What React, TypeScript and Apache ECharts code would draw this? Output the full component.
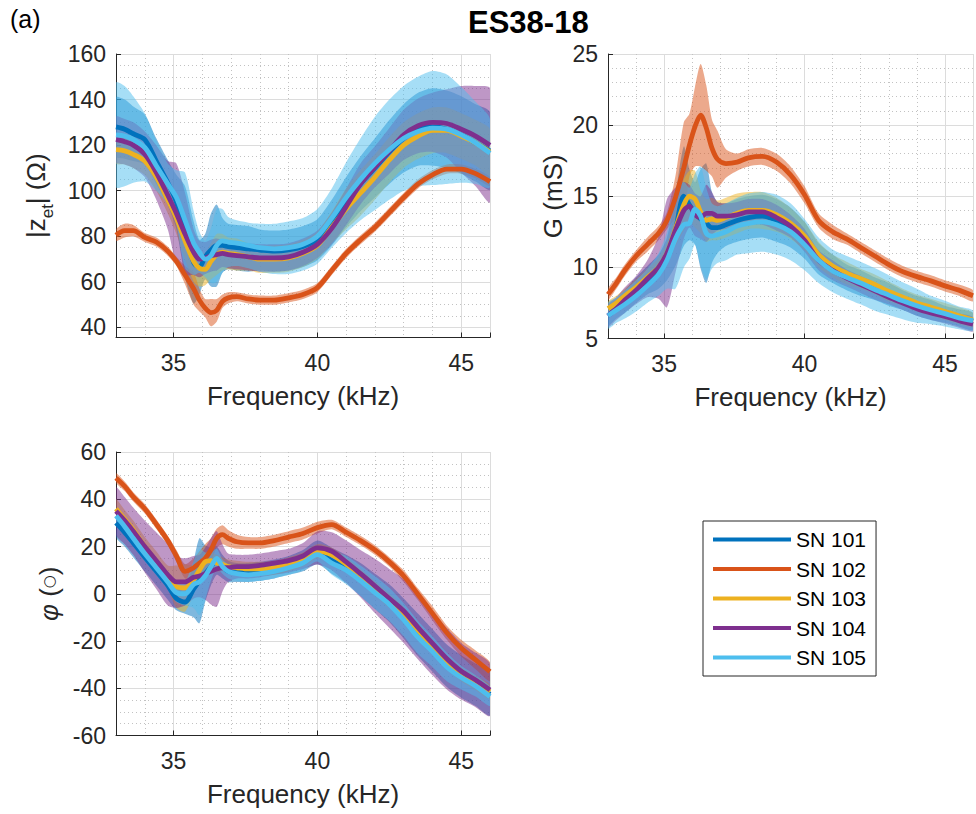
import React, { useEffect, useRef } from 'react';
import * as echarts from 'echarts';

// ---------------- data ----------------
const freq = [33, 33.3, 33.6, 34, 34.4, 34.8, 35.1, 35.4, 35.7, 35.9, 36.1, 36.3, 36.5, 36.7, 36.9, 37.2, 37.6, 38, 38.5, 39, 39.5, 40, 40.5, 41, 41.5, 42, 42.5, 43, 43.5, 44, 44.5, 45, 45.5, 46];

const seriesNames = ['SN 101', 'SN 102', 'SN 103', 'SN 104', 'SN 105'];
const seriesColors = ['#0072BD', '#D95319', '#EDB120', '#7E2F8E', '#4DBEEE'];

// |z_et| (Ohm) mean and spread
const zMean101 = [128, 127, 125, 122.5, 113, 103.5, 95, 82, 68.5, 66.5, 71, 74, 76, 76, 75.5, 75, 74.5, 74, 73.5, 74, 75.5, 78.5, 86, 95, 103, 110, 117, 123, 127, 128, 127, 124.5, 121, 117.5];
const zMean102 = [80.5, 82.5, 82.5, 79.5, 77.5, 73.5, 69, 63, 57, 52, 48.5, 46.5, 47.5, 51.5, 53, 53.5, 52.5, 52, 52, 53, 54.5, 57.5, 65, 72.5, 78.5, 84, 90.5, 97, 103, 107, 109.5, 109.5, 107.5, 104];
const zMean103 = [118, 117.5, 116, 113, 106, 96, 88, 78, 69, 66, 65.5, 69, 72, 73, 72.5, 72, 71, 70, 70, 70.5, 72.5, 76, 84, 92, 99, 106, 113.5, 120, 124, 126.5, 126.5, 124, 121, 117];
const zMean104 = [122.5, 121.5, 120, 116, 108, 98, 90, 81, 73, 70, 70.5, 71.5, 72, 72.5, 72, 71.5, 71, 70.5, 70.5, 71, 73, 76.5, 83.5, 93, 103, 110.5, 117.5, 124.5, 128.5, 130, 129.5, 127, 124, 120];
const zMean105 = [124.5, 124, 122.5, 119, 111, 103, 97, 87, 77, 73, 70, 71.5, 76, 78, 77.5, 77, 76, 75, 74.5, 75, 76.5, 80, 88, 97, 105, 112, 118, 123, 126, 127.5, 127, 124.5, 121, 116.5];
const zSd101 = [13, 13, 12, 11, 10, 10, 12, 20, 18, 12, 10, 16, 18, 12, 10, 10, 10, 9, 9, 9, 9, 9, 10, 11, 12, 13, 14, 15, 16, 17, 17, 17, 17, 17];
const zSd102 = [2.5, 3, 2.5, 2, 2, 2, 2, 4, 7, 5, 4, 6, 5, 3, 2.5, 2, 2, 2, 2, 2, 2, 2, 2, 2, 2, 2, 2, 2, 2, 2, 2, 2, 2, 2];
const zSd103 = [6, 6, 6, 6, 6, 6, 7, 8, 9, 8, 7, 8, 9, 8, 7, 7, 6, 6, 6, 6, 6, 6, 7, 9, 10, 10, 10, 10, 10, 10, 10, 10, 10, 10];
const zSd104 = [10, 10, 10, 10, 12, 15, 22, 18, 10, 8, 7, 7, 7, 6, 6, 6, 6, 6, 6, 6, 6, 6, 7, 8, 9, 9, 10, 11, 12, 13, 15, 19, 22, 25];
const zSd105 = [23, 22, 19, 15, 11, 9, 12, 21, 14, 9, 8, 12, 16, 14, 11, 10, 10, 10.5, 11, 11.5, 11.5, 12, 13, 15.5, 18, 20.5, 22, 23, 24, 25, 24, 21, 18, 15];

// G (mS) mean and spread
const gMean101 = [6.6, 7.1, 7.6, 8.4, 9.1, 9.7, 10.6, 12.6, 15.0, 14.4, 13.8, 13.4, 13.1, 12.8, 12.8, 13.0, 13.3, 13.5, 13.6, 13.3, 12.8, 11.9, 10.6, 9.9, 9.3, 8.9, 8.5, 8.1, 7.7, 7.3, 7.0, 6.7, 6.45, 6.2];
const gMean102 = [8.1, 8.9, 9.8, 10.8, 11.6, 12.4, 13.3, 14.9, 17.0, 18.6, 19.9, 20.7, 19.8, 18.4, 17.6, 17.3, 17.4, 17.7, 17.8, 17.4, 16.5, 15.1, 13.3, 12.5, 12.0, 11.4, 10.8, 10.2, 9.7, 9.35, 9.05, 8.7, 8.4, 8.0];
const gMean103 = [7.1, 7.5, 8.0, 8.6, 9.3, 10.0, 11.0, 12.7, 14.4, 15.0, 14.8, 13.9, 13.3, 13.4, 13.3, 13.5, 13.8, 14.0, 14.0, 13.7, 13.1, 12.2, 10.9, 10.1, 9.6, 9.2, 8.8, 8.3, 7.9, 7.5, 7.2, 6.9, 6.6, 6.3];
const gMean104 = [6.6, 7.1, 7.7, 8.4, 9.2, 10.0, 11.0, 12.6, 14.0, 14.3, 13.7, 13.5, 13.8, 13.8, 13.6, 13.6, 13.7, 13.9, 13.9, 13.5, 12.9, 11.9, 10.5, 9.8, 9.25, 8.8, 8.35, 7.9, 7.5, 7.1, 6.8, 6.55, 6.25, 6.0];
const gMean105 = [6.6, 7.0, 7.4, 8.0, 8.7, 9.5, 10.5, 12.0, 13.0, 13.1, 14.1, 13.6, 12.4, 12.2, 12.3, 12.5, 12.9, 13.1, 13.2, 13.0, 12.5, 11.6, 10.5, 9.75, 9.3, 8.9, 8.45, 8.05, 7.65, 7.3, 7.0, 6.75, 6.45, 6.25];
const gSd101 = [0.7, 0.7, 0.8, 0.9, 1.0, 1.2, 1.5, 2.5, 3.5, 2.5, 2.2, 3.5, 4.2, 2.5, 1.8, 1.5, 1.5, 1.5, 1.5, 1.5, 1.4, 1.3, 1.1, 1.0, 0.9, 0.9, 0.8, 0.8, 0.7, 0.7, 0.7, 0.6, 0.6, 0.6];
const gSd102 = [0.4, 0.4, 0.4, 0.4, 0.5, 0.5, 0.6, 1.5, 3.2, 2.2, 2.8, 3.6, 3.0, 2.0, 2.0, 1.0, 0.6, 0.6, 0.6, 0.6, 0.6, 0.6, 0.5, 0.5, 0.4, 0.4, 0.4, 0.4, 0.4, 0.4, 0.4, 0.4, 0.4, 0.4];
const gSd103 = [0.5, 0.5, 0.5, 0.6, 0.6, 0.7, 0.8, 1.2, 1.8, 1.8, 2.0, 1.5, 1.5, 1.5, 1.4, 1.4, 1.4, 1.3, 1.3, 1.2, 1.1, 1.0, 0.9, 0.8, 0.8, 0.7, 0.7, 0.7, 0.6, 0.6, 0.6, 0.6, 0.6, 0.5];
const gSd104 = [0.8, 0.8, 0.9, 1.0, 1.3, 2.2, 3.8, 3.0, 2.0, 1.5, 1.5, 1.5, 2.0, 1.5, 1.0, 0.9, 0.9, 0.9, 0.9, 0.9, 0.8, 0.8, 0.7, 0.7, 0.6, 0.6, 0.6, 0.5, 0.5, 0.5, 0.5, 0.5, 0.5, 0.5];
const gSd105 = [0.9, 0.9, 1.0, 1.1, 1.2, 1.5, 2.0, 3.5, 3.0, 2.5, 2.5, 3.5, 3.2, 2.3, 2.0, 2.0, 2.0, 2.1, 2.1, 2.1, 2.0, 1.8, 1.6, 1.5, 1.5, 1.5, 1.5, 1.4, 1.3, 1.2, 1.0, 0.9, 0.8, 0.7];

// phase (deg) mean and spread
const phMean101 = [30, 26, 21.5, 15.5, 9.5, 3.5, -2, -3.5, 2, 5.5, 8.5, 11.5, 14, 11.5, 9.5, 9, 9, 9.5, 10.5, 12, 14, 17.5, 14, 10.5, 6, 1, -4, -10.5, -17.5, -24, -30.5, -35, -38.5, -42.5];
const phMean102 = [49, 45.5, 41, 36, 29.5, 22.5, 16, 9.5, 11, 13, 15, 18.5, 23.5, 25, 23.5, 22, 21.5, 21.5, 22.5, 24, 25.5, 28, 29.3, 26, 22.5, 18.5, 13.5, 7.5, -0.3, -8.3, -16.5, -23, -28, -33];
const phMean103 = [36, 31.5, 27, 20, 13.5, 7, 3, 2.5, 6, 10, 13.5, 14, 13, 12.5, 11.5, 11, 10.5, 10.5, 11, 12.5, 14.5, 18, 16.5, 12.5, 7.5, 2.3, -3, -8.5, -15.5, -22.5, -29, -34, -37.8, -41.5];
const phMean104 = [35, 31, 26.5, 20, 14, 8, 5, 5, 7, 7.5, 8.5, 9.5, 10.5, 11, 11, 11.5, 11.5, 12, 13, 14, 16, 19.4, 18, 13.5, 8.5, 3.3, -2, -7.3, -14.3, -21, -27.5, -32.8, -36.5, -40.7];
const phMean105 = [33, 28.5, 23.5, 17, 11, 5, 0.5, 0, 4, 5, 7.5, 11.5, 15, 11.5, 9.5, 8.5, 8, 8.5, 9.5, 11, 13, 16.6, 13, 10, 5.5, 0.5, -4.5, -11, -18.5, -24.5, -31, -35.5, -39, -43.5];
const phSd101 = [6, 6, 6, 6, 6, 6, 5, 5, 12, 18, 12, 8, 6, 5, 4.5, 4, 4, 4, 4, 4, 4.5, 5, 5.5, 6, 7, 7.5, 8, 8.5, 9, 9, 9, 9, 9, 9];
const phSd102 = [2, 2, 2, 2, 2, 2, 2.5, 3, 4, 5, 6, 5, 4, 4, 3.5, 3, 2.5, 2.5, 2.5, 2.5, 2.5, 2.5, 2, 2, 2, 2, 2, 2.5, 2.5, 3, 3, 3.5, 4, 4];
const phSd103 = [4, 4, 4, 4, 4.5, 5, 9, 10, 6, 4, 4, 3.5, 3.5, 3, 3, 3, 3, 3, 3, 3, 3, 3, 3, 3, 3, 3, 3, 3, 3, 3, 3, 3, 3, 3];
const phSd104 = [10, 10, 10, 11, 12, 13, 11, 10, 9, 9, 11, 14, 16, 10, 6, 5, 5, 5, 5, 5, 5.5, 7, 8, 9, 10, 11.5, 12.5, 13.5, 13.5, 13.5, 13, 12, 11.5, 11];
const phSd105 = [3, 3, 3, 3, 3, 3, 4, 5, 10, 14, 10, 6, 4, 3, 3, 3, 3, 3, 3, 3, 3, 3, 5, 6, 6.5, 7, 7, 7, 7, 6.5, 6, 5, 4.5, 4];

const xTicks = [35, 40, 45];

// ---------------- helpers ----------------
const FONT = "'Liberation Sans', Arial, Helvetica, sans-serif";
const AX = '#262626';

function rgba(hex: string, a: number) {
  const n = parseInt(hex.slice(1), 16);
  return `rgba(${(n >> 16) & 255},${(n >> 8) & 255},${n & 255},${a})`;
}

const panels = [
  { means: [zMean101, zMean102, zMean103, zMean104, zMean105], sds: [zSd101, zSd102, zSd103, zSd104, zSd105] },
  { means: [gMean101, gMean102, gMean103, gMean104, gMean105], sds: [gSd101, gSd102, gSd103, gSd104, gSd105] },
  { means: [phMean101, phMean102, phMean103, phMean104, phMean105], sds: [phSd101, phSd102, phSd103, phSd104, phSd105] },
];

function makeX(gridIndex: number) {
  return {
    type: 'value', gridIndex, min: 33, max: 46, splitNumber: 3,
    name: 'Frequency (kHz)', nameLocation: 'middle', nameGap: 45,
    nameTextStyle: { fontSize: 26, color: AX, fontFamily: FONT },
    axisLine: { show: true, onZero: false, lineStyle: { color: AX, width: 1 } },
    axisTick: { show: true, inside: true, length: 5, lineStyle: { color: AX } },
    axisLabel: {
      fontSize: 23, color: AX, fontFamily: FONT, margin: 14,
      formatter: (v: number) => (xTicks.indexOf(v) >= 0 ? String(v) : ''),
    },
    splitLine: { show: true, lineStyle: { color: '#dcdcdc', width: 1 } },
    minorTick: { show: false, splitNumber: 5 },
    minorSplitLine: { show: true, lineStyle: { color: '#c2c2c2', width: 1, type: [1, 3] } },
  };
}

function makeY(gridIndex: number, min: number, max: number, splitNumber: number, minorSplit: number, step: number, name: string, nameGap: number, nameStyle: any) {
  return {
    type: 'value', gridIndex, min, max, splitNumber,
    name, nameLocation: 'middle', nameGap, nameRotate: 90,
    nameTextStyle: Object.assign({ fontSize: 26, color: AX, fontFamily: FONT }, nameStyle),
    axisLine: { show: true, onZero: false, lineStyle: { color: AX, width: 1 } },
    axisTick: { show: true, inside: true, length: 5, lineStyle: { color: AX } },
    axisLabel: {
      fontSize: 23, color: AX, fontFamily: FONT, margin: 10,
      formatter: (v: number) => (Math.abs(v / step - Math.round(v / step)) < 1e-6 ? String(v) : ''),
    },
    splitLine: { show: true, lineStyle: { color: '#dcdcdc', width: 1 } },
    minorTick: { show: false, splitNumber: minorSplit },
    minorSplitLine: { show: true, lineStyle: { color: '#c2c2c2', width: 1, type: [1, 3] } },
  };
}

function bandSeries(p: number, k: number) {
  const mean = panels[p].means[k];
  const sd = panels[p].sds[k];
  const pts = freq.map((f, i) => [f, mean[i] - sd[i], mean[i] + sd[i]]);
  return {
    type: 'custom',
    name: seriesNames[k] + ' band',
    xAxisIndex: p, yAxisIndex: p,
    clip: true, silent: true, z: 2,
    data: pts,
    encode: { x: 0, y: [1, 2] },
    renderItem: (params: any, api: any) => {
      if (params.dataIndex !== 0) return null;
      const upper = pts.map((q) => api.coord([q[0], q[2]]));
      const lower = pts.map((q) => api.coord([q[0], q[1]])).reverse();
      return {
        type: 'polygon',
        shape: { points: upper.concat(lower), smooth: 0.25 },
        style: { fill: rgba(seriesColors[k], 0.5), stroke: 'none' },
      };
    },
  };
}

function lineSeries(p: number, k: number) {
  const mean = panels[p].means[k];
  return {
    type: 'line',
    name: seriesNames[k],
    xAxisIndex: p, yAxisIndex: p,
    data: freq.map((f, i) => [f, mean[i]]),
    color: seriesColors[k],
    showSymbol: false, symbol: 'none', smooth: 0.3, z: 3,
    lineStyle: { width: 4.8, color: seriesColors[k] },
    itemStyle: { color: seriesColors[k] },
    emphasis: { disabled: true },
  };
}

export default function App() {
  const ref = useRef<HTMLDivElement>(null);
  useEffect(() => {
    if (!ref.current) return;
    const chart = echarts.init(ref.current, null, { renderer: 'svg' });
    const series: any[] = [];
    for (let p = 0; p < 3; p++) {
      for (let k = 0; k < 5; k++) series.push(bandSeries(p, k));
      for (let k = 0; k < 5; k++) series.push(lineSeries(p, k));
    }
    chart.setOption({
      animation: false,
      backgroundColor: '#ffffff',
      title: [
        { text: 'ES38-18', left: 468, top: 7, padding: 0, textStyle: { fontSize: 31, fontWeight: 'bold', color: '#000', fontFamily: FONT } },
        { text: '(a)', left: 10, top: 6, padding: 0, textStyle: { fontSize: 25, fontWeight: 'normal', color: '#000', fontFamily: FONT } },
      ],
      legend: {
        data: seriesNames, orient: 'vertical', left: 703, top: 521,
        padding: [8, 10, 8, 10], itemGap: 8.5, itemWidth: 78, itemHeight: 4, itemTextGap: 7,
        icon: 'rect', borderColor: AX, borderWidth: 1, backgroundColor: '#fff',
        textStyle: { fontSize: 21, color: '#000', fontFamily: FONT },
        selectedMode: false,
      },
      grid: [
        { left: 116, top: 54, width: 374, height: 283.5 },
        { left: 608, top: 54, width: 375, height: 284.5 },
        { left: 116, top: 452, width: 374, height: 283.5 },
      ],
      xAxis: [makeX(0), makeX(1), makeX(2)],
      yAxis: [
        makeY(0, 35.6, 160, 6, 4, 20, '|z{sub|et}| (Ω)', 60, { lineHeight: 40, rich: { sub: { fontSize: 17, lineHeight: 14, verticalAlign: 'bottom', fontFamily: FONT, color: AX } } }),
        makeY(1, 5, 25, 4, 5, 5, 'G (mS)', 42, {}),
        makeY(2, -60, 60, 6, 4, 20, '{i|φ} ({c|○})', 54, { rich: { i: { fontSize: 26, fontStyle: 'italic', fontFamily: FONT, color: AX }, c: { fontSize: 15, fontFamily: "'DejaVu Sans', sans-serif", color: AX } } }),
      ],
      series,
    });
    return () => chart.dispose();
  }, []);
  return <div ref={ref} style={{ position: 'absolute', left: 0, top: 0, width: 976, height: 814 }} />;
}
